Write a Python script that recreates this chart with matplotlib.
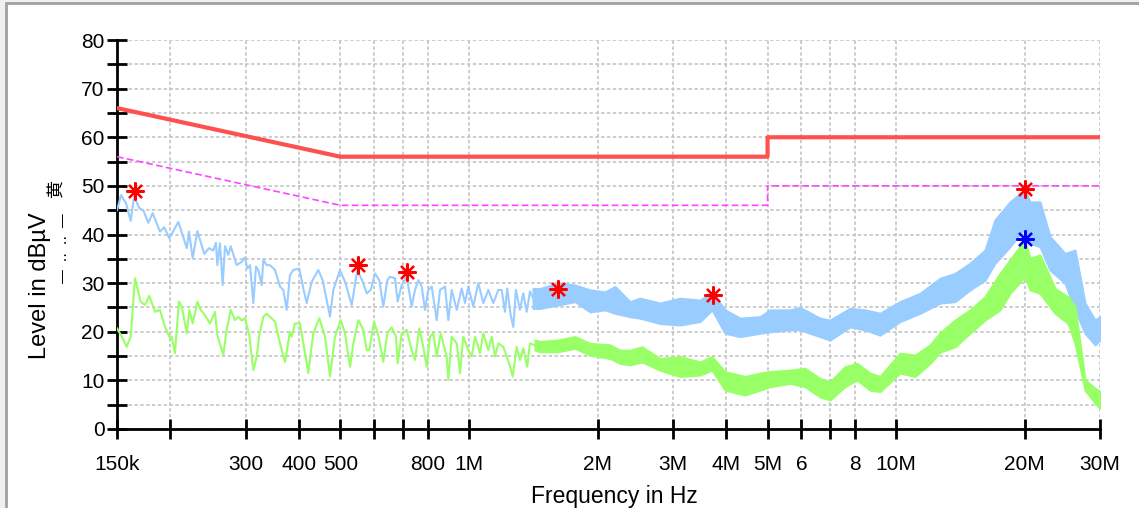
import numpy as np
import matplotlib
matplotlib.use('Agg')
import matplotlib.pyplot as plt
from matplotlib.ticker import NullLocator
from matplotlib.patches import Rectangle

plt.rcParams['font.family'] = ['Liberation Sans', 'DejaVu Sans']

# frequencies in MHz, levels in dBuV

# peak trace (light blue), low-frequency part drawn as a line
pk_f = [0.150, 0.1533, 0.1575, 0.1615, 0.1644, 0.1692, 0.1728, 0.1776, 0.1818, 0.1891,
        0.1935, 0.1988, 0.2088, 0.2185, 0.2211, 0.2256, 0.2313, 0.2401, 0.2463, 0.2520,
        0.2557, 0.2576, 0.2613, 0.2651, 0.2685, 0.2733, 0.2769, 0.2859, 0.2938, 0.2990,
        0.3028, 0.3072, 0.3128, 0.3173, 0.3213, 0.3272, 0.3301, 0.3361, 0.3421, 0.3515,
        0.3611, 0.3676, 0.3744, 0.3811, 0.3880, 0.4007, 0.4094, 0.4170, 0.4284, 0.4439,
        0.4546, 0.4728, 0.4813, 0.4990, 0.5126, 0.5315, 0.5478, 0.5657, 0.5762, 0.5889,
        0.6026, 0.6167, 0.6302, 0.6439, 0.6533, 0.6711, 0.6811, 0.6958, 0.7148, 0.7343,
        0.7476, 0.7610, 0.7751, 0.7890, 0.8032, 0.8181, 0.8404, 0.8555, 0.8788, 0.8946,
        0.9112, 0.9361, 0.9616, 0.9789, 0.9964, 1.0235, 1.0515, 1.0804, 1.1099, 1.1402,
        1.1713, 1.193, 1.214, 1.229, 1.252, 1.270, 1.288, 1.316, 1.340, 1.365,
        1.389, 1.412]
pk_lv = [45.0, 48.1, 46.4, 42.8, 47.8, 45.4, 45.0, 42.4, 44.4, 40.6,
         41.5, 39.2, 42.6, 37.2, 40.6, 35.1, 40.7, 36.0, 37.2, 36.7,
         38.3, 33.7, 38.2, 29.6, 37.6, 35.8, 37.6, 33.7, 34.4, 35.3,
         33.0, 33.7, 25.9, 33.4, 32.7, 29.6, 34.8, 33.7, 33.7, 32.7,
         29.3, 28.6, 24.5, 31.7, 32.7, 33.0, 28.9, 25.9, 30.3, 32.7,
         30.6, 23.1, 28.6, 32.7, 30.3, 25.5, 32.7, 30.0, 27.9, 28.6,
         32.0, 30.6, 25.2, 30.6, 31.3, 31.0, 26.2, 29.6, 31.3, 25.2,
         28.6, 30.6, 29.3, 24.5, 28.6, 29.3, 22.4, 28.6, 29.3, 22.4,
         28.6, 24.5, 28.9, 25.9, 29.3, 25.2, 30.0, 25.9, 28.6, 25.9,
         28.6, 28.6, 24.1, 28.9, 23.4, 21.0, 28.6, 24.5, 27.9, 24.1,
         28.3, 26.9]

# peak trace, dense part drawn as a band (upper / lower edge)
pkb_f = [1.412, 1.466, 1.616, 1.771, 1.920, 2.082, 2.197, 2.382, 2.514, 2.800,
         3.119, 3.474, 3.706, 3.975, 4.310, 4.800, 5.066, 5.642, 5.955, 6.632,
         7.000, 7.797, 8.454, 9.166, 10.21, 11.37, 12.67, 13.73, 14.89, 16.14,
         17.03, 18.47, 20.0, 20.57, 21.71, 22.91, 24.84, 26.22, 27.67, 29.21, 30.0]
pkb_hi = [28.9, 28.9, 30.0, 29.6, 28.6, 28.2, 29.3, 26.2, 26.9, 25.9,
          26.9, 26.5, 28.2, 24.5, 22.8, 23.1, 24.5, 24.5, 25.0, 22.8,
          22.4, 24.8, 24.5, 23.8, 26.2, 27.9, 31.0, 32.0, 34.1, 36.8,
          43.0, 46.7, 49.2, 46.7, 46.7, 39.6, 36.1, 36.8, 25.9, 22.4, 23.1]
pkb_lo = [24.8, 24.8, 25.5, 26.2, 24.1, 24.5, 23.8, 23.1, 22.8, 21.7,
          21.4, 22.1, 24.5, 19.7, 19.0, 19.7, 20.0, 20.4, 20.4, 19.0,
          18.3, 21.0, 20.4, 19.3, 22.1, 23.8, 25.9, 26.2, 28.6, 30.6,
          34.1, 37.5, 41.3, 38.2, 37.5, 32.7, 30.0, 24.5, 19.7, 17.3, 18.3]

# average trace (green), line part
av_f = [0.150, 0.1539, 0.1581, 0.1615, 0.1653, 0.1704, 0.1744, 0.1786, 0.1841, 0.1891,
        0.1943, 0.1996, 0.2014, 0.2050, 0.2095, 0.2126, 0.2185, 0.2215, 0.2256, 0.2313,
        0.2355, 0.2410, 0.2476, 0.2544, 0.2576, 0.2660, 0.2709, 0.2769, 0.2833, 0.2884,
        0.2938, 0.2990, 0.3060, 0.3128, 0.3185, 0.3230, 0.3301, 0.3361, 0.3515, 0.3611,
        0.3710, 0.3811, 0.3846, 0.3915, 0.4022, 0.4132, 0.4206, 0.4321, 0.4463, 0.4602,
        0.4728, 0.4857, 0.5009, 0.5126, 0.5267, 0.5362, 0.5508, 0.5657, 0.5762, 0.5844,
        0.5994, 0.6134, 0.6302, 0.6439, 0.6593, 0.6748, 0.6811, 0.6958, 0.7148, 0.7343,
        0.7476, 0.7651, 0.7818, 0.7963, 0.8106, 0.8251, 0.8404, 0.8586, 0.8869, 0.8946,
        0.9112, 0.9361, 0.9528, 0.9698, 0.9964, 1.0148, 1.0330, 1.0611, 1.0804, 1.1099,
        1.1306, 1.1508, 1.1713, 1.203, 1.226, 1.248, 1.266, 1.293, 1.316, 1.340,
        1.369, 1.389, 1.427]
av_lv = [20.7, 19.0, 16.9, 19.0, 31.0, 26.2, 25.5, 27.4, 24.1, 24.5,
         21.0, 18.7, 19.0, 15.6, 26.2, 25.2, 19.7, 24.5, 21.7, 26.2,
         24.5, 23.4, 21.7, 24.1, 19.3, 15.2, 20.4, 24.5, 22.4, 23.1,
         22.3, 22.8, 19.3, 12.1, 14.9, 19.3, 23.1, 23.7, 22.1, 17.6,
         13.8, 20.0, 19.0, 21.7, 21.7, 15.6, 11.5, 19.7, 22.8, 19.0,
         10.8, 19.0, 22.4, 19.7, 12.8, 17.6, 22.4, 20.4, 16.2, 16.2,
         22.1, 19.3, 13.8, 19.7, 20.9, 19.0, 13.5, 19.7, 20.4, 16.2,
         14.2, 20.7, 16.9, 12.8, 19.0, 19.7, 14.9, 19.7, 14.9, 10.1,
         19.0, 17.6, 11.5, 19.0, 16.2, 14.9, 19.0, 15.6, 19.7, 16.2,
         19.0, 14.9, 17.6, 16.9, 14.9, 12.8, 10.8, 16.9, 14.2, 16.6,
         12.8, 17.6, 17.2]

# average trace, band part
avb_f = [1.427, 1.466, 1.616, 1.771, 1.920, 2.139, 2.257, 2.382, 2.541, 2.800,
         3.119, 3.474, 3.706, 3.975, 4.427, 4.800, 5.066, 5.642, 6.117, 6.632,
         7.000, 7.589, 8.097, 8.684, 9.166, 10.21, 11.07, 12.00, 12.67, 13.73,
         14.89, 16.14, 17.50, 18.47, 20.0, 20.57, 21.71, 23.54, 25.25, 26.22,
         27.67, 29.21, 30.0]
avb_hi = [18.3, 18.0, 18.3, 19.0, 17.6, 17.3, 16.2, 16.2, 16.9, 14.5,
          14.9, 13.8, 14.9, 11.8, 10.8, 11.5, 11.8, 12.1, 12.5, 10.4,
          9.7, 12.8, 13.5, 11.5, 10.8, 15.6, 15.2, 17.3, 19.8, 22.4,
          24.5, 27.2, 32.0, 34.8, 38.9, 35.1, 35.8, 28.9, 27.2, 25.2,
          10.1, 8.4, 7.7]
avb_lo = [16.2, 15.9, 15.9, 16.6, 15.2, 14.5, 13.5, 13.2, 13.8, 12.1,
          10.8, 11.1, 12.1, 8.0, 7.0, 8.0, 8.7, 9.4, 8.7, 6.6,
          6.0, 8.7, 10.1, 8.0, 7.7, 11.5, 10.8, 13.5, 15.8, 16.9,
          19.7, 22.4, 24.5, 27.9, 31.3, 28.6, 27.9, 23.8, 21.7, 17.6,
          8.0, 5.3, 4.3]

# limit lines
qp_f = [0.15, 0.5, 5.0, 5.0, 30.0]
qp_lv = [66, 56, 56, 60, 60]
avl_f = [0.15, 0.5, 5.0, 5.0, 30.0]
avl_lv = [56, 46, 46, 50, 50]

# final measurement markers
mk_red_f = [0.165, 0.551, 0.715, 1.62, 3.73, 20.0]
mk_red_lv = [49.0, 33.7, 32.2, 28.7, 27.6, 49.3]
mk_blue_f = [20.0]
mk_blue_lv = [39.1]

xt = [0.15, 0.2, 0.3, 0.4, 0.5, 0.6, 0.7, 0.8, 1, 2, 3, 4, 5, 6, 7, 8, 10, 20, 30]
xt_lab = ['150k', '', '300', '400', '500', '', '', '800', '1M', '2M', '3M', '4M', '5M', '6',
          '', '8', '10M', '20M', '30M']

W, H = 1139, 508
fig = plt.figure(figsize=(W / 100, H / 100), dpi=100)
fig.patch.set_facecolor('#f0f0f0')
frame = Rectangle((6 / W, -0.05), 1.0, 1 - 3 / H + 0.05, transform=fig.transFigure,
                  facecolor='white', edgecolor='#a0a0a0', lw=2)
frame.set_zorder(-10)
fig.add_artist(frame)

ax = fig.add_axes([117 / W, (H - 429) / H, (1100 - 117) / W, (429 - 40) / H])
ax.set_zorder(1)
ax.set_facecolor('none')
ax.set_xscale('log')

ax.plot(qp_f, qp_lv, color='#ff5050', lw=3, zorder=3)
ax.plot(avl_f, avl_lv, color='#ff44ff', lw=1.2, ls=(0, (4, 2)), zorder=3)

ax.plot(pk_f, pk_lv, color='#99ccff', lw=1.5, zorder=4)
ax.fill_between(pkb_f, pkb_lo, pkb_hi, color='#99ccff', lw=1.5, zorder=4)
ax.plot(av_f, av_lv, color='#99ff66', lw=1.5, zorder=5)
ax.fill_between(avb_f, avb_lo, avb_hi, color='#99ff66', lw=1.5, zorder=5)

ax.plot(mk_red_f, mk_red_lv, ls='none', marker=(8, 2, 0), ms=13, mew=1.6, color='#ff0000', zorder=6)
ax.plot(mk_blue_f, mk_blue_lv, ls='none', marker=(8, 2, 0), ms=13, mew=1.6, color='#0000ff', zorder=6)

ax.set_xlim(0.15, 30)
ax.set_ylim(0, 80)
ax.set_xticks(xt)
ax.set_xticklabels(xt_lab)
ax.xaxis.set_minor_locator(NullLocator())
ax.set_yticks(range(0, 81, 5))
ax.set_yticklabels([str(v) if v % 10 == 0 else '' for v in range(0, 81, 5)])

ax.grid(True, color='#c4c4c4', ls=(0, (2, 1.5)), lw=1.2, zorder=1)
for s in ['top', 'right']:
    ax.spines[s].set_visible(False)
for s in ['left', 'bottom']:
    ax.spines[s].set_linewidth(2)
ax.tick_params(axis='both', direction='inout', length=14, width=2, labelsize=15, colors='black')
ax.tick_params(axis='x', pad=12)
ax.tick_params(axis='y', pad=2)

# axis titles placed where the reference has them
fig.text(614 / W, 1 - 496 / H, 'Frequency in Hz', fontsize=16.5, ha='center', va='center')
fig.text(40 / W, 1 - 286 / H, 'Level in dBµV', fontsize=17, rotation=90, ha='center', va='center')
fig.text(57 / W, 1 - 188 / H, '黄', fontsize=13, rotation=90, ha='center', va='center',
         family=['Noto Sans CJK SC', 'DejaVu Sans'])
fig.text(63 / W, 1 - 248 / H, '—  ‥  ‥  —', fontsize=10, rotation=90, ha='center', va='center')

fig.savefig('out.png', dpi=100, facecolor=fig.get_facecolor())
